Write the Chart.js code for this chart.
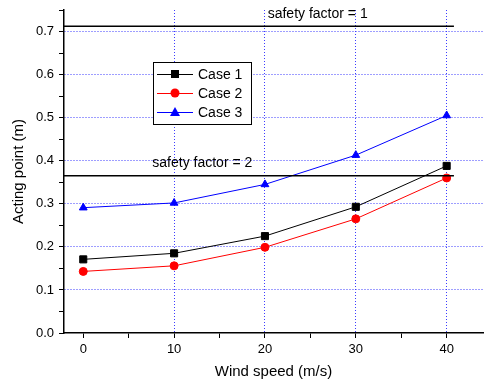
<!DOCTYPE html>
<html>
<head>
<meta charset="utf-8">
<script src="https://cdn.jsdelivr.net/npm/chart.js@4"></script>
<style>
  html, body { margin: 0; padding: 0; background: #fff; overflow: hidden; }
  canvas { display: block; }
</style>
</head>
<body>
<canvas id="chart" width="489" height="385"></canvas>
<script>
const windSpeed = [0, 10, 20, 30, 40];
const case1 = [0.171, 0.185, 0.225, 0.293, 0.388];
const case2 = [0.143, 0.156, 0.199, 0.265, 0.360];
const case3 = [0.291, 0.302, 0.345, 0.413, 0.505];
const safetyLevels = [0.712, 0.365];
const safetyLabels = ['safety factor = 1', 'safety factor = 2'];
const safetySpan = [-2.12, 40.8];
const safetyLabelAt = [[20.3, 0.740], [7.6, 0.395]];
const xTicks = [0, 5, 10, 15, 20, 25, 30, 35, 40];
const yTicks = [0, 0.05, 0.1, 0.15, 0.2, 0.25, 0.3, 0.35, 0.4, 0.45, 0.5, 0.55, 0.6, 0.65, 0.7, 0.75];

const FONT = 'Liberation Sans, Arial, sans-serif';
const GRID = 'rgba(60, 60, 255, 1)';

function pairs(ys) {
  return windSpeed.map((x, i) => ({ x, y: ys[i] }));
}

const isMajorX = (v) => Math.round(v) % 10 === 0;
const isMajorY = (v) => Math.round(v * 100) % 10 === 0;
const noPadding = () => ({ left: 0, top: 0, right: 0, bottom: 0 });

const series = [
  { label: 'Case 1', data: pairs(case1), color: '#000000', pointStyle: 'rect', pointRadius: 5 },
  { label: 'Case 2', data: pairs(case2), color: '#ff0000', pointStyle: 'circle', pointRadius: 4 },
  { label: 'Case 3', data: pairs(case3), color: '#0000ff', pointStyle: 'triangle', pointRadius: 4.5 },
];

const datasets = series.map((s) => ({
  label: s.label,
  data: s.data,
  borderColor: s.color,
  backgroundColor: s.color,
  borderWidth: 1,
  pointStyle: s.pointStyle,
  pointRadius: s.pointRadius,
  pointBorderWidth: 1,
  pointBorderColor: s.color,
  pointBackgroundColor: s.color,
}));

safetyLevels.forEach((level) => {
  datasets.unshift({
    label: 'safety',
    data: safetySpan.map((x) => ({ x, y: level })),
    borderColor: '#000000',
    borderWidth: 1.5,
    pointRadius: 0,
  });
});

const annotations = {
  id: 'annotations',
  afterDatasetsDraw(chart) {
    const { ctx, scales } = chart;
    ctx.save();
    ctx.font = '14px ' + FONT;
    ctx.fillStyle = '#000';
    ctx.textBaseline = 'middle';
    safetyLabels.forEach((text, i) => {
      const [x, y] = safetyLabelAt[i];
      ctx.fillText(text, scales.x.getPixelForValue(x), scales.y.getPixelForValue(y));
    });

    // legend box
    const bx = 153, by = 62, bw = 98, bh = 62;
    ctx.fillStyle = '#fff';
    ctx.fillRect(bx, by, bw, bh);
    ctx.strokeStyle = '#000';
    ctx.lineWidth = 1;
    ctx.strokeRect(bx + 0.5, by + 0.5, bw, bh);
    series.forEach((s, i) => {
      const cy = by + 12 + i * 19;
      ctx.strokeStyle = s.color;
      ctx.beginPath();
      ctx.moveTo(bx + 4, cy + 0.5);
      ctx.lineTo(bx + 40, cy + 0.5);
      ctx.stroke();
      const cx = bx + 22;
      ctx.fillStyle = s.color;
      ctx.beginPath();
      if (s.pointStyle === 'rect') {
        ctx.rect(cx - 4, cy - 4, 8, 8);
      } else if (s.pointStyle === 'circle') {
        ctx.arc(cx, cy, 4.5, 0, Math.PI * 2);
      } else {
        ctx.moveTo(cx, cy - 5);
        ctx.lineTo(cx + 5, cy + 4);
        ctx.lineTo(cx - 5, cy + 4);
        ctx.closePath();
      }
      ctx.fill();
      ctx.fillStyle = '#000';
      ctx.font = '14px ' + FONT;
      ctx.fillText(s.label, bx + 45, cy + 1);
    });
    ctx.restore();
  },
};

new Chart(document.getElementById('chart'), {
  type: 'line',
  data: { datasets },
  options: {
    responsive: false,
    animation: false,
    layout: { padding: { top: 10, right: 0, left: 0, bottom: 0 } },
    plugins: { legend: { display: false }, tooltip: { enabled: false } },
    scales: {
      x: {
        type: 'linear',
        min: -2.12,
        max: 44.0,
        afterBuildTicks: (scale) => { scale.ticks = xTicks.map((value) => ({ value })); },
        afterFit: (scale) => {
          scale.height = 52;
          scale.paddingLeft = 0;
          scale.paddingRight = 0;
          scale.getPadding = noPadding;
        },
        grid: {
          color: (c) => (c.tick && isMajorX(c.tick.value) && c.tick.value !== 0 ? GRID : 'rgba(0,0,0,0)'),
          tickColor: '#000',
          tickLength: 5,
          lineWidth: 1,
        },
        border: { display: true, color: '#000', width: 1.5, dash: [1, 2] },
        ticks: {
          color: '#000',
          font: { family: FONT, size: 13 },
          padding: 4,
          maxRotation: 0,
          callback: (v) => (isMajorX(v) ? String(v) : ''),
        },
        title: {
          display: true,
          text: 'Wind speed (m/s)',
          color: '#000',
          font: { family: FONT, size: 15 },
          padding: { top: 5 },
        },
      },
      y: {
        min: 0,
        max: 0.75,
        afterBuildTicks: (scale) => { scale.ticks = yTicks.map((value) => ({ value })); },
        afterFit: (scale) => {
          scale.width = 64;
          scale.paddingTop = 0;
          scale.paddingBottom = 0;
          scale.getPadding = noPadding;
        },
        grid: {
          color: (c) => (c.tick && isMajorY(c.tick.value) && c.tick.value !== 0 ? GRID : 'rgba(0,0,0,0)'),
          tickColor: '#000',
          tickLength: 5,
          lineWidth: 1,
        },
        border: { display: true, color: '#000', width: 1.5, dash: [1, 2] },
        ticks: {
          color: '#000',
          font: { family: FONT, size: 13 },
          padding: 5,
          callback: (v) => (isMajorY(v) ? v.toFixed(1) : ''),
        },
        title: {
          display: true,
          text: 'Acting point (m)',
          color: '#000',
          font: { family: FONT, size: 15 },
          padding: { top: 10, bottom: 0 },
        },
      },
    },
  },
  plugins: [annotations],
});
</script>
</body>
</html>
